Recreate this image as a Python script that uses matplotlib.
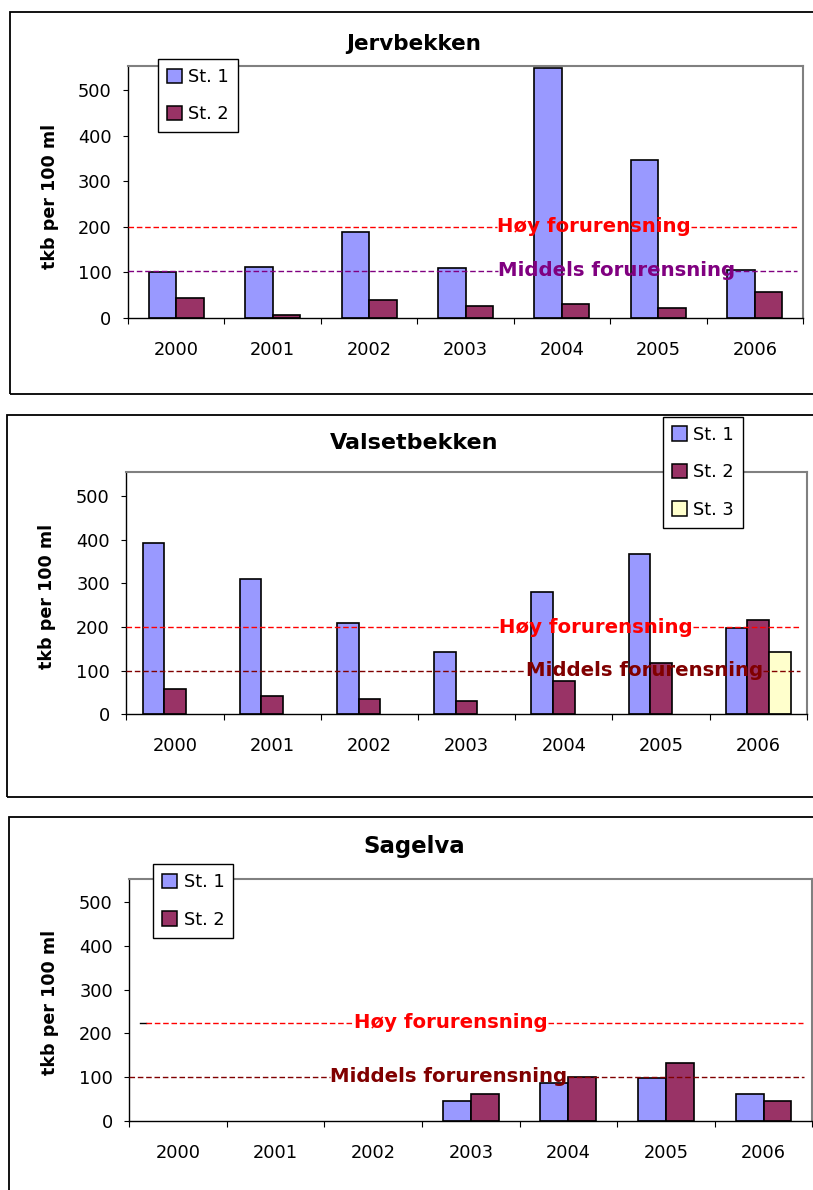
import numpy as np
import matplotlib
matplotlib.use('Agg')
import matplotlib.pyplot as plt
from matplotlib.patches import Rectangle, Patch
from matplotlib.transforms import blended_transform_factory

# ---------------- data ----------------
years = ['2000', '2001', '2002', '2003', '2004', '2005', '2006']
yticks = [0, 100, 200, 300, 400, 500]

jerv_st1 = [102, 113, 188, 109, 548, 347, 105]
jerv_st2 = [43, 7, 39, 26, 30, 21, 56]

vals_st1 = [394, 311, 210, 142, 280, 367, 197]
vals_st2 = [59, 41, 36, 31, 77, 118, 216]
vals_st3 = [np.nan, np.nan, np.nan, np.nan, np.nan, np.nan, 142]

sag_st1 = [np.nan, np.nan, np.nan, 46, 87, 97, 60]
sag_st2 = [np.nan, np.nan, np.nan, 60, 101, 133, 46]

jerv_high, jerv_mid = 200, 104
vals_high, vals_mid = 200, 100
sag_high, sag_mid = 224, 101

titles = ['Jervbekken', 'Valsetbekken', 'Sagelva']
st_labels = ['St. 1', 'St. 2', 'St. 3']
high_label = 'Høy forurensning'
mid_label = 'Middels forurensning'
ylabel = 'tkb per 100 ml'

c1, c2, c3 = '#9999FF', '#993366', '#FFFFCC'

# ---------------- figure ----------------
W, H = 813, 1190
fig = plt.figure(figsize=(W / 100, H / 100), dpi=100)
plt.rcParams['font.family'] = ['DejaVu Sans']


def fx(x):
    return x / W


def fy(y):
    return 1 - y / H


def add_ax(l, t, r, b):
    return fig.add_axes([fx(l), fy(b), (r - l) / W, (b - t) / H])


def frame(x0, y0, x1, y1):
    fig.add_artist(Rectangle((fx(x0), fy(y1)), (x1 - x0) / W, (y1 - y0) / H,
                             transform=fig.transFigure, fill=False,
                             ec='black', lw=1.3, zorder=0))


def setup(ax, ytop):
    ax.set_xlim(-0.5, 6.5)
    ax.set_ylim(0, ytop)
    ax.set_yticks(yticks)
    ax.tick_params(axis='y', direction='out', length=3.8, width=0.8,
                   labelsize=12.8, pad=8.0)
    ax.set_xticks(np.arange(-0.5, 7, 1))
    ax.set_xticklabels([])
    ax.set_xticks(np.arange(7), minor=True)
    ax.set_xticklabels(years, minor=True)
    ax.tick_params(axis='x', which='major', direction='out', length=4.3, width=0.8)
    ax.tick_params(axis='x', which='minor', length=0, labelsize=12.8, pad=16.5)
    for s in ['left', 'bottom']:
        ax.spines[s].set_color('black')
        ax.spines[s].set_linewidth(1.0)
    for s in ['top', 'right']:
        ax.spines[s].set_color('#808080')
        ax.spines[s].set_linewidth(1.5)


def bars(ax, series, colors):
    n = len(series)
    w = 1.0 / (n + 1.5)
    x = np.arange(len(years))
    for i, (vals, c) in enumerate(zip(series, colors)):
        off = (i - (n - 1) / 2) * w
        ax.bar(x + off, vals, width=w, color=c, edgecolor='black',
               linewidth=1.2, zorder=2)


def legend(ax, colors, labels, x, y):
    handles = [Patch(fc=c, ec='black', lw=1.1, label=l) for c, l in zip(colors, labels)]
    lg = ax.legend(handles=handles, loc='upper left',
                   bbox_to_anchor=(fx(x), fy(y)), bbox_transform=fig.transFigure,
                   frameon=True, fancybox=False, edgecolor='black', framealpha=1,
                   borderpad=0.5, labelspacing=1.1, handlelength=0.85,
                   handleheight=0.85, handletextpad=0.35, borderaxespad=0,
                   prop=dict(size=12.8))
    lg.get_frame().set_linewidth(1.0)
    lg.set_zorder(10)


specs = []


def threshold(ax, value, label, color, tx, start, end):
    t = ax.text(tx, value, label, color=color, fontsize=14.2, fontweight='bold',
                ha='center', va='center',
                transform=blended_transform_factory(ax.transAxes, ax.transData),
                zorder=6)
    specs.append((ax, value, t, color, start, end))


# ---- chart 1 ----
frame(10, 12, 840, 394)
ax1 = add_ax(128, 66, 803, 318)
setup(ax1, 553)
bars(ax1, [jerv_st1, jerv_st2], [c1, c2])
legend(ax1, [c1, c2], st_labels[:2], 158, 59)
threshold(ax1, jerv_high, high_label, '#FF0000', 0.690, 0.0, 0.991)
threshold(ax1, jerv_mid, mid_label, '#800080', 0.724, 0.0, 0.991)
fig.text(fx(414), fy(44), titles[0], ha='center', va='center',
         fontsize=15.5, fontweight='bold')
fig.text(fx(50), fy(196), ylabel, rotation=90, ha='center', va='center',
         fontsize=12.6, fontweight='bold')

# ---- chart 2 ----
frame(6.7, 415, 840, 797)
ax2 = add_ax(126.3, 472.3, 806.7, 714.3)
setup(ax2, 555)
bars(ax2, [vals_st1, vals_st2, vals_st3], [c1, c2, c3])
legend(ax2, [c1, c2, c3], st_labels, 662.7, 416.7)
threshold(ax2, vals_high, high_label, '#FF0000', 0.690, 0.0, 0.990)
threshold(ax2, vals_mid, mid_label, '#800000', 0.762, 0.0, 0.990)
fig.text(fx(414), fy(443), titles[1], ha='center', va='center',
         fontsize=16, fontweight='bold')
fig.text(fx(47), fy(596), ylabel, rotation=90, ha='center', va='center',
         fontsize=12.6, fontweight='bold')

# ---- chart 3 ----
frame(9.3, 816.7, 840, 1260)
ax3 = add_ax(129.3, 879, 812.3, 1120.7)
setup(ax3, 553)
bars(ax3, [sag_st1, sag_st2], [c1, c2])
legend(ax3, [c1, c2], st_labels[:2], 153.3, 864.3)
threshold(ax3, sag_high, high_label, '#FF0000', 0.471, 0.0245, 0.986)
threshold(ax3, sag_mid, mid_label, '#800000', 0.468, 0.0, 0.988)
ax3.plot([0.0157, 0.0245], [sag_high, sag_high], color='black', lw=1.0,
         transform=blended_transform_factory(ax3.transAxes, ax3.transData),
         zorder=5, clip_on=False)
fig.text(fx(414), fy(847), titles[2], ha='center', va='center',
         fontsize=16.5, fontweight='bold')
fig.text(fx(50), fy(1002), ylabel, rotation=90, ha='center', va='center',
         fontsize=12.6, fontweight='bold')

# ---- dashed threshold lines broken around their labels ----
fig.canvas.draw()
renderer = fig.canvas.get_renderer()
for ax, value, t, color, start, end in specs:
    bb = t.get_window_extent(renderer)
    inv = ax.transAxes.inverted()
    x0 = inv.transform((bb.x0, 0))[0]
    x1 = inv.transform((bb.x1, 0))[0]
    tr = blended_transform_factory(ax.transAxes, ax.transData)
    for a, b in [(start, x0), (x1, end)]:
        ax.plot([a, b], [value, value], color=color, lw=1.0,
                linestyle=(0, (4, 2)), transform=tr, zorder=5, clip_on=False)

fig.savefig('out.png', dpi=100)
